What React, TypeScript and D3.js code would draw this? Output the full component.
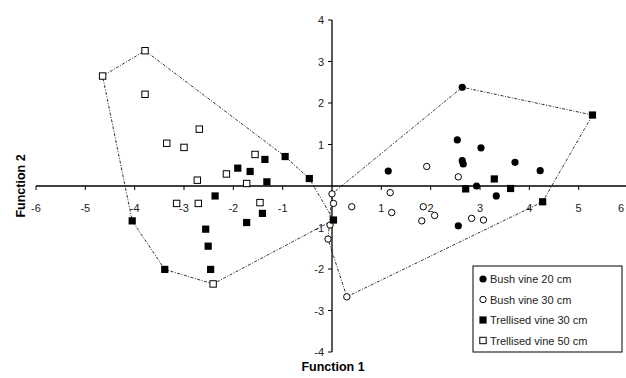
import React from "react";
import * as d3 from "d3";

// cluster: L = trellised hull, R = bush vine hull
type P = [number, number, "L" | "R"];

const bush20: P[] = [
  [2.64, 2.38, "R"], [2.54, 1.11, "R"], [3.02, 0.92, "R"], [2.64, 0.61, "R"],
  [2.66, 0.53, "R"], [3.71, 0.57, "R"], [4.22, 0.37, "R"], [1.14, 0.36, "R"],
  [2.93, 0.0, "R"], [3.33, -0.24, "R"], [2.56, -0.96, "R"],
];
const bush30: P[] = [
  [1.92, 0.47, "R"], [2.56, 0.22, "R"], [1.18, -0.16, "R"], [1.21, -0.64, "R"],
  [2.08, -0.71, "R"], [1.85, -0.5, "R"], [3.07, -0.82, "R"], [1.82, -0.84, "R"],
  [2.83, -0.78, "R"], [0.4, -0.5, "R"], [0.3, -2.67, "R"], [0.0, -0.19, "R"],
  [0.03, -0.42, "R"], [-0.04, -0.94, "R"], [-0.08, -1.28, "R"],
];
const trellis30: P[] = [
  [5.28, 1.71, "R"], [4.27, -0.38, "R"], [3.29, 0.17, "R"], [2.71, -0.07, "R"],
  [3.62, -0.06, "R"],
  [-0.95, 0.71, "L"], [-1.36, 0.64, "L"], [-1.91, 0.43, "L"], [-1.66, 0.35, "L"],
  [-1.32, 0.1, "L"], [-0.46, 0.18, "L"], [-2.37, -0.24, "L"], [-1.41, -0.66, "L"],
  [-1.73, -0.88, "L"], [-2.56, -1.04, "L"], [-2.51, -1.45, "L"], [-2.46, -2.01, "L"],
  [-4.05, -0.84, "L"], [-3.39, -2.01, "L"], [0.03, -0.82, "L"],
];
const trellis50: P[] = [
  [-4.65, 2.65, "L"], [-3.79, 3.26, "L"], [-3.79, 2.21, "L"], [-2.69, 1.37, "L"],
  [-3.35, 1.03, "L"], [-3.0, 0.93, "L"], [-1.56, 0.76, "L"], [-2.73, 0.14, "L"],
  [-2.14, 0.29, "L"], [-1.73, 0.06, "L"], [-2.71, -0.42, "L"], [-3.15, -0.42, "L"],
  [-1.46, -0.4, "L"], [-2.41, -2.36, "L"],
];

const legendLabels = ["Bush vine 20 cm", "Bush vine 30 cm", "Trellised vine 30 cm", "Trellised vine 50 cm"];
const xTicks = [-6, -5, -4, -3, -2, -1, 1, 2, 3, 4, 5, 6];
const yTicks = [-4, -3, -2, -1, 1, 2, 3, 4];

const W = 626;
const H = 378;

const Marker = ({ kind, x, y }: { kind: number; x: number; y: number }) => {
  if (kind === 0) return <circle cx={x} cy={y} r={3.6} fill="#000" />;
  if (kind === 1) return <circle cx={x} cy={y} r={3.2} fill="#fff" stroke="#000" strokeWidth={1} />;
  if (kind === 2) return <rect x={x - 3.6} y={y - 3.6} width={7.2} height={7.2} fill="#000" />;
  return <rect x={x - 3.2} y={y - 3.2} width={6.4} height={6.4} fill="#fff" stroke="#000" strokeWidth={1} />;
};

export default function App() {
  const x = d3.scaleLinear().domain([-6, 6]).range([36, 628]);
  const y = d3.scaleLinear().domain([-4, 4]).range([352, 20]);
  const series = [bush20, bush30, trellis30, trellis50];
  const all = series.flat();
  const hull = (g: string) =>
    d3.polygonHull(all.filter(p => p[2] === g).map(p => [x(p[0]), y(p[1])] as [number, number]));
  const hulls = [hull("L"), hull("R")];
  const font = "Arial, 'Liberation Sans', sans-serif";

  return (
    <svg width={W} height={H} style={{ position: "absolute", left: 0, top: 0, background: "#fff" }} fontFamily={font}>
      {hulls.map((h, i) => h && (
        <path key={i} d={"M" + h.map(p => p.join(",")).join("L") + "Z"} fill="none"
          stroke="#333" strokeWidth={1} strokeDasharray="3,1.5,1,1.5" />
      ))}
      {/* axes */}
      <line x1={x(-6)} x2={W} y1={y(0)} y2={y(0)} stroke="#000" strokeWidth={1.3} />
      <line x1={x(0)} x2={x(0)} y1={y(4)} y2={y(-4)} stroke="#000" strokeWidth={1.3} />
      {xTicks.map(t => (
        <g key={"x" + t}>
          <line x1={x(t)} x2={x(t)} y1={y(0)} y2={y(0) + 4} stroke="#000" />
          <text x={Math.min(x(t), W - 5)} y={y(0) + 26} textAnchor="middle" fontSize={11} fill="#222">{t}</text>
        </g>
      ))}
      {yTicks.map(t => (
        <g key={"y" + t}>
          <line x1={x(0) - 4} x2={x(0)} y1={y(t)} y2={y(t)} stroke="#000" />
          <text x={x(0) - 8} y={y(t) + 4} textAnchor="end" fontSize={11} fill="#222">{t}</text>
        </g>
      ))}
      {series.map((s, k) => s.map((p, i) => <Marker key={k + "-" + i} kind={k} x={x(p[0])} y={y(p[1])} />))}
      <text x={333} y={371} textAnchor="middle" fontSize={12.5} fontWeight="bold">Function 1</text>
      <text transform={`translate(25,${y(0)}) rotate(-90)`} textAnchor="middle" fontSize={12.5} fontWeight="bold">Function 2</text>
      {/* legend */}
      <rect x={473} y={266} width={149} height={86} fill="#fff" stroke="#000" strokeWidth={1} />
      {legendLabels.map((l, i) => (
        <g key={l}>
          <Marker kind={i} x={483} y={279 + i * 20.5} />
          <text x={490} y={283 + i * 20.5} fontSize={11} fill="#222">{l}</text>
        </g>
      ))}
    </svg>
  );
}
